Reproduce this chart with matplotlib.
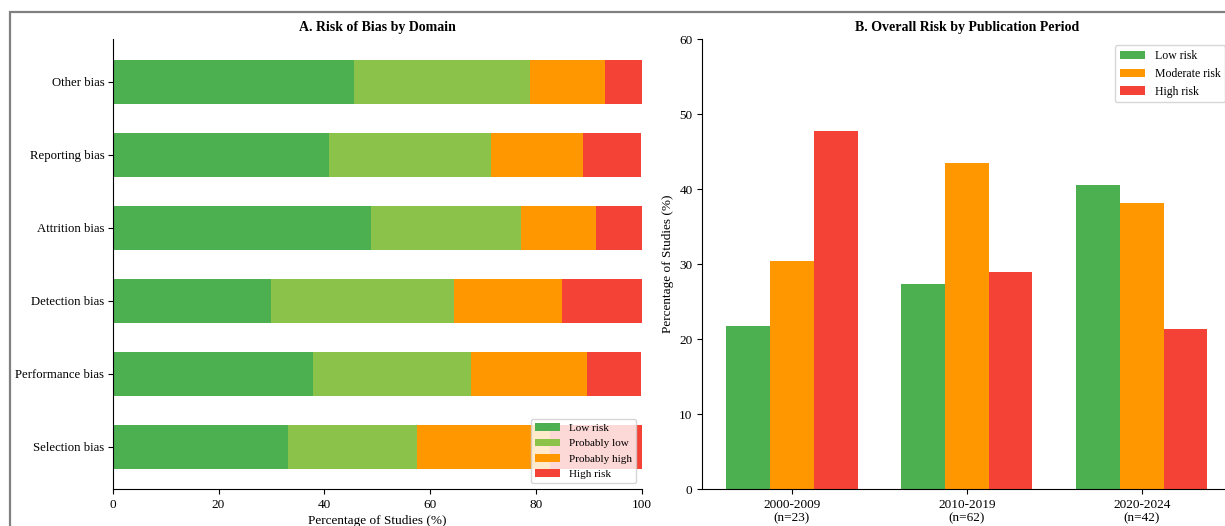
import numpy as np
import matplotlib.pyplot as plt
from matplotlib.patches import Rectangle

plt.rcParams['font.family'] = ['Liberation Serif', 'DejaVu Serif']

# panel A: risk of bias by domain (% of studies)
domains = ['Selection bias', 'Performance bias', 'Detection bias',
           'Attrition bias', 'Reporting bias', 'Other bias']
low = [33.1, 37.8, 29.9, 48.8, 40.9, 45.7]
prob_low = [24.4, 29.9, 34.6, 28.3, 30.7, 33.1]
prob_high = [25.2, 22.0, 20.5, 14.2, 17.3, 14.2]
high = [17.3, 10.2, 15.0, 8.7, 11.0, 7.1]

# panel B: overall risk by publication period
periods = ['2000-2009\n(n=23)', '2010-2019\n(n=62)', '2020-2024\n(n=42)']
p_low = [21.7, 27.4, 40.5]
p_mod = [30.4, 43.5, 38.1]
p_high = [47.8, 29.0, 21.4]

GREEN = '#4CAF50'
LGREEN = '#8BC34A'
ORANGE = '#FF9800'
RED = '#F44336'

fig = plt.figure(figsize=(12.25, 5.26), dpi=100)

# outer frame (only top/left visible in the crop)
fig.patches.append(Rectangle((9.5/1225, -0.1), 1.2, 1.1 - 12.5/526,
                             transform=fig.transFigure, fill=False,
                             edgecolor='#808080', linewidth=1.6))

ax1 = fig.add_axes([112.7/1225, 37/526, 529/1225, 449.7/526])
ax2 = fig.add_axes([702.3/1225, 37/526, 529/1225, 449.7/526])

# A
y = np.arange(len(domains))
left = np.zeros(len(domains))
for vals, col, lab in [(low, GREEN, 'Low risk'), (prob_low, LGREEN, 'Probably low'),
                       (prob_high, ORANGE, 'Probably high'), (high, RED, 'High risk')]:
    ax1.barh(y, vals, left=left, height=0.6, color=col, label=lab)
    left += np.array(vals)
ax1.set_yticks(y)
ax1.set_yticklabels(domains, fontsize=9.2)
ax1.tick_params(axis='y', pad=2.5)
ax1.set_xlim(0, 100)
ax1.tick_params(axis='x', labelsize=9.5)
ax1.set_xlabel('Percentage of Studies (%)', fontsize=9.5, labelpad=3)
ax1.set_title('A. Risk of Bias by Domain', fontsize=10, fontweight='bold')
ax1.legend(loc='lower right', fontsize=8, handlelength=2.2)
ax1.spines['top'].set_visible(False)
ax1.spines['right'].set_visible(False)

# B
x = np.arange(len(periods))
w = 0.25
ax2.bar(x - w, p_low, w, color=GREEN, label='Low risk')
ax2.bar(x, p_mod, w, color=ORANGE, label='Moderate risk')
ax2.bar(x + w, p_high, w, color=RED, label='High risk')
ax2.set_xticks(x)
ax2.set_xticklabels(periods, fontsize=9.5)
ax2.set_ylim(0, 60)
ax2.tick_params(axis='y', labelsize=9.5)
ax2.set_ylabel('Percentage of Studies (%)', fontsize=9.5)
ax2.set_title('B. Overall Risk by Publication Period', fontsize=10, fontweight='bold')
ax2.legend(loc='upper right', fontsize=8.5, handlelength=2.2)
ax2.spines['top'].set_visible(False)
ax2.spines['right'].set_visible(False)

fig.savefig('out.png', dpi=100)
